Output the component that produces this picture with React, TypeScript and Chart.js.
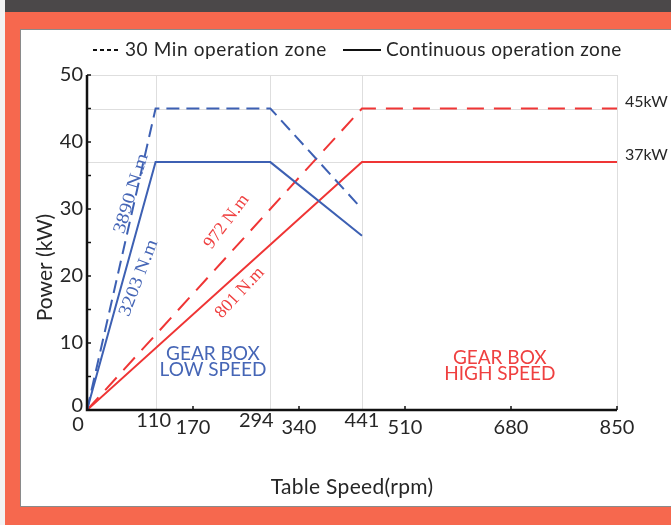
import React, { useEffect, useRef } from "react";
import { Chart, registerables } from "chart.js";

Chart.register(...registerables);

// ---- data ----
const lowSpeedRpm = [0, 110, 294, 441];
const lowSpeed30Min = [0, 45, 45, 30];
const lowSpeedContinuous = [0, 37, 37, 26];
const highSpeedRpm = [0, 441, 850];
const highSpeed30Min = [0, 45, 45];
const highSpeedContinuous = [0, 37, 37];

const xTickValues = [0, 110, 170, 294, 340, 441, 510, 680, 850];
const xShiftSpeeds = [110, 294, 441];
const xMarkTicks = [170, 340, 510, 680, 850];
const yTickValues = [0, 10, 20, 30, 40, 50];
const yMinorTicks = [0, 5, 10, 15, 20, 25, 30, 35, 40, 45, 50];
const gridXValues = [110, 294, 441, 850];
const gridYValues = [37, 45, 50];
const powerLimitLabels = ["45kW", "37kW"];
const powerLimitValues = [45, 37];

const legendLabels = ["30 Min operation zone", "Continuous operation zone"];
const xTitle = "Table Speed(rpm)";
const yTitle = "Power (kW)";

const torqueTexts = ["3890 N.m", "3203 N.m", "972 N.m", "801 N.m"];
const torqueAnchorX = [71, 83, 224, 245];
const torqueAnchorY = [32.3, 19.7, 28.1, 17.5];
const gearLowText = ["GEAR BOX", "LOW SPEED"];
const gearHighText = ["GEAR BOX", "HIGH SPEED"];

const BLUE = "#3d60b3";
const RED = "#ef3535";
const BLUE_TXT = "#4666b6";
const RED_TXT = "#ef4040";
const INK = "#262626";
const SANS = "Lato, 'Noto Sans', sans-serif";
const SERIF = "'Liberation Serif', 'DejaVu Serif', serif";

const toXY = (xs: number[], ys: number[]) => xs.map((x, i) => ({ x, y: ys[i] }));

const customPlugin = {
  id: "customDraw",
  beforeDatasetsDraw(chart: any) {
    const { ctx, chartArea: a, scales } = chart;
    const x = scales.x;
    const y = scales.y;
    ctx.save();
    ctx.strokeStyle = "#dedede";
    ctx.lineWidth = 1;
    gridXValues.forEach((v) => {
      const px = Math.round(x.getPixelForValue(v)) + 0.5;
      ctx.beginPath();
      ctx.moveTo(px, a.top);
      ctx.lineTo(px, a.bottom);
      ctx.stroke();
    });
    gridYValues.forEach((v) => {
      const py = Math.round(y.getPixelForValue(v)) + 0.5;
      ctx.beginPath();
      ctx.moveTo(a.left, py);
      ctx.lineTo(a.right, py);
      ctx.stroke();
    });
    ctx.restore();
  },
  afterDatasetsDraw(chart: any) {
    const { ctx, chartArea: a, scales } = chart;
    const x = scales.x;
    const y = scales.y;
    ctx.save();

    // axes
    ctx.strokeStyle = "#111";
    ctx.lineWidth = 2.5;
    ctx.beginPath();
    ctx.moveTo(a.left, a.top);
    ctx.lineTo(a.left, a.bottom);
    ctx.lineTo(a.right, a.bottom);
    ctx.stroke();

    // tick marks (inside)
    ctx.lineWidth = 1.5;
    yMinorTicks.forEach((v) => {
      const py = y.getPixelForValue(v);
      ctx.beginPath();
      ctx.moveTo(a.left, py);
      ctx.lineTo(a.left + 4, py);
      ctx.stroke();
    });
    xMarkTicks.forEach((v) => {
      const px = x.getPixelForValue(v);
      ctx.beginPath();
      ctx.moveTo(px, a.bottom);
      ctx.lineTo(px, a.bottom - 4);
      ctx.stroke();
    });

    // tick labels
    ctx.fillStyle = INK;
    ctx.font = `20px ${SANS}`;
    ctx.textBaseline = "middle";
    ctx.textAlign = "right";
    yTickValues.forEach((v) => {
      const py = y.getPixelForValue(v) + (v === 0 ? -4 : 0);
      ctx.fillText(String(v), a.left - 4, py);
    });
    ctx.textAlign = "center";
    xTickValues.forEach((v) => {
      let px = x.getPixelForValue(v);
      let py = a.bottom + 18;
      if (v === 0) {
        px -= 9;
        py = a.bottom + 15;
      }
      if (xShiftSpeeds.includes(v)) {
        py = a.bottom + 11;
        if (v === 294) px -= 14;
        if (v === 110) px -= 2;
      }
      ctx.fillText(String(v), px, py);
    });

    // right-side power labels
    ctx.textAlign = "left";
    ctx.font = `16px ${SANS}`;
    powerLimitLabels.forEach((t, i) => {
      ctx.fillText(t, a.right + 8, y.getPixelForValue(powerLimitValues[i]) - 7);
    });

    // axis titles
    ctx.font = `21px ${SANS}`;
    ctx.textAlign = "center";
    ctx.save();
    (ctx as any).letterSpacing = "0.3px";
    ctx.fillText(xTitle, (a.left + a.right) / 2, a.bottom + 77);
    ctx.restore();
    ctx.save();
    ctx.translate(45, (a.top + a.bottom) / 2 + 25);
    ctx.rotate(-Math.PI / 2);
    ctx.fillText(yTitle, 0, 0);
    ctx.restore();

    // legend
    const ly = a.top - 25;
    ctx.strokeStyle = "#111";
    ctx.lineWidth = 2;
    ctx.setLineDash([4, 3]);
    ctx.beginPath();
    ctx.moveTo(a.left + 6, ly);
    ctx.lineTo(a.left + 34, ly);
    ctx.stroke();
    ctx.setLineDash([]);
    ctx.beginPath();
    ctx.moveTo(a.left + 256, ly);
    ctx.lineTo(a.left + 294, ly);
    ctx.stroke();
    ctx.save();
    ctx.font = `19px ${SANS}`;
    (ctx as any).letterSpacing = "0.6px";
    ctx.textAlign = "left";
    ctx.fillStyle = INK;
    ctx.fillText(legendLabels[0], a.left + 38, ly);
    (ctx as any).letterSpacing = "0.4px";
    ctx.fillText(legendLabels[1], a.left + 299, ly);
    ctx.restore();

    // torque annotations
    const angles = [-73, -69, -53, -47];
    const stretch = [1.15, 1.12, 1, 1];
    const colors = [BLUE_TXT, BLUE_TXT, RED_TXT, RED_TXT];
    ctx.font = `18px ${SERIF}`;
    ctx.textAlign = "center";
    torqueTexts.forEach((t, i) => {
      ctx.save();
      ctx.translate(x.getPixelForValue(torqueAnchorX[i]), y.getPixelForValue(torqueAnchorY[i]));
      ctx.rotate((angles[i] * Math.PI) / 180);
      ctx.scale(stretch[i], 1);
      ctx.fillStyle = colors[i];
      ctx.fillText(t, 0, 0);
      ctx.restore();
    });

    // gear box labels
    ctx.font = `19px ${SANS}`;
    ctx.fillStyle = BLUE_TXT;
    const lowX = x.getPixelForValue(202);
    const lowY = y.getPixelForValue(7.2);
    ctx.fillText(gearLowText[0], lowX, lowY - 8);
    ctx.fillText(gearLowText[1], lowX, lowY + 8);
    ctx.fillStyle = RED_TXT;
    const hiX = x.getPixelForValue(662);
    const hiY = y.getPixelForValue(6.6);
    ctx.fillText(gearHighText[0], hiX, hiY - 8);
    ctx.fillText(gearHighText[1], hiX, hiY + 8);

    ctx.restore();
  },
};

export default function App() {
  const ref = useRef<HTMLCanvasElement | null>(null);

  useEffect(() => {
    document.body.style.margin = "0";
    if (!ref.current) return;
    const chart = new Chart(ref.current, {
      type: "line",
      data: {
        datasets: [
          {
            label: "Low 30 min",
            data: toXY(lowSpeedRpm, lowSpeed30Min),
            borderColor: BLUE,
            borderWidth: 2,
            borderDash: [13, 7],
            pointRadius: 0,
            tension: 0,
            fill: false,
          },
          {
            label: "Low continuous",
            data: toXY(lowSpeedRpm, lowSpeedContinuous),
            borderColor: BLUE,
            borderWidth: 2,
            pointRadius: 0,
            tension: 0,
            fill: false,
          },
          {
            label: "High 30 min",
            data: toXY(highSpeedRpm, highSpeed30Min),
            borderColor: RED,
            borderWidth: 2,
            borderDash: [17, 10],
            pointRadius: 0,
            tension: 0,
            fill: false,
          },
          {
            label: "High continuous",
            data: toXY(highSpeedRpm, highSpeedContinuous),
            borderColor: RED,
            borderWidth: 2,
            pointRadius: 0,
            tension: 0,
            fill: false,
          },
        ],
      },
      options: {
        animation: false,
        responsive: false,
        devicePixelRatio: 1,
        layout: { padding: { left: 87, right: 54, top: 75, bottom: 115 } },
        plugins: { legend: { display: false }, tooltip: { enabled: false }, title: { display: false } },
        scales: {
          x: { type: "linear", min: 0, max: 850, display: false },
          y: { type: "linear", min: 0, max: 50, display: false },
        },
      },
      plugins: [customPlugin],
    });
    return () => chart.destroy();
  }, []);

  return (
    <div style={{ position: "fixed", left: 0, top: 0, width: 671, height: 525, background: "#f6684e", overflow: "hidden" }}>
      <div style={{ position: "absolute", left: 0, top: 0, width: 5, height: 525, background: "#f3f3f3" }} />
      <div style={{ position: "absolute", left: 5, top: 0, width: 666, height: 12, background: "#4b4849" }} />
      <div
        style={{
          position: "absolute",
          left: 20,
          top: 29,
          width: 651,
          height: 478,
          background: "#ffffff",
          borderTop: "1px solid #8a8a8a",
          borderLeft: "1px solid #8a8a8a",
          borderBottom: "1px solid #8a8a8a",
          boxSizing: "border-box",
        }}
      />
      <canvas ref={ref} width={671} height={525} style={{ position: "absolute", left: 0, top: 0, width: 671, height: 525 }} />
    </div>
  );
}
